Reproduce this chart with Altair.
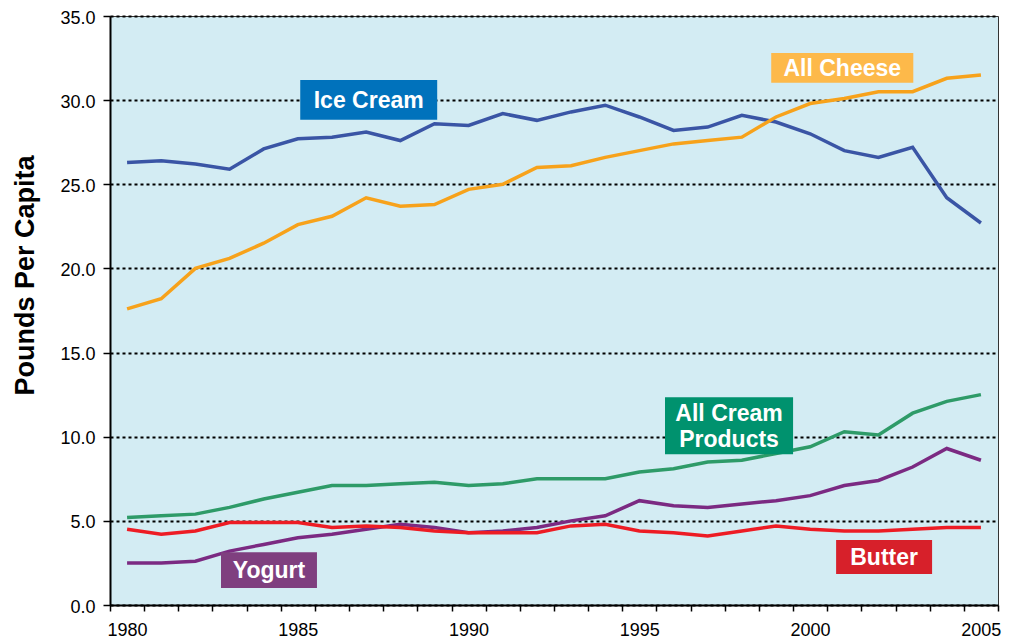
import altair as alt
import pandas as pd

years = list(range(1980, 2006))
ice_cream = [26.3, 26.4, 26.2, 25.9, 27.1, 27.7, 27.8, 28.1, 27.6, 28.6, 28.5, 29.2, 28.8,
             29.3, 29.7, 29.0, 28.2, 28.4, 29.1, 28.7, 28.0, 27.0, 26.6, 27.2, 24.2, 22.7]
cheese = [17.6, 18.2, 20.0, 20.6, 21.5, 22.6, 23.1, 24.2, 23.7, 23.8, 24.7, 25.0, 26.0,
          26.1, 26.6, 27.0, 27.4, 27.6, 27.8, 29.0, 29.8, 30.1, 30.5, 30.5, 31.3, 31.5]
cream = [5.2, 5.3, 5.4, 5.8, 6.3, 6.7, 7.1, 7.1, 7.2, 7.3, 7.1, 7.2, 7.5,
         7.5, 7.5, 7.9, 8.1, 8.5, 8.6, 9.0, 9.4, 10.3, 10.1, 11.4, 12.1, 12.5]
yogurt = [2.5, 2.5, 2.6, 3.2, 3.6, 4.0, 4.2, 4.5, 4.8, 4.6, 4.3, 4.4, 4.6,
          5.0, 5.3, 6.2, 5.9, 5.8, 6.0, 6.2, 6.5, 7.1, 7.4, 8.2, 9.3, 8.6]
butter = [4.5, 4.2, 4.4, 4.9, 4.9, 4.9, 4.6, 4.7, 4.6, 4.4, 4.3, 4.3, 4.3,
          4.7, 4.8, 4.4, 4.3, 4.1, 4.4, 4.7, 4.5, 4.4, 4.4, 4.5, 4.6, 4.6]

series_names = ["Ice Cream", "All Cheese", "All Cream Products", "Yogurt", "Butter"]
series_values = [ice_cream, cheese, cream, yogurt, butter]
line_colors = ["#3A55A5", "#F7A21B", "#2E9B68", "#7B2A82", "#ED1C24"]

# annotation label boxes (data coordinates)
label_texts = ["Ice Cream", "All Cheese", "All Cream\nProducts", "Yogurt", "Butter"]
label_fills = ["#0072BC", "#FDB94A", "#00926E", "#7F3F7F", "#D7202A"]
label_x0 = [1985.07, 1998.86, 1995.75, 1982.75, 2000.76]
label_x1 = [1989.08, 2003.02, 1999.50, 1985.56, 2003.57]
label_y0 = [28.83, 31.03, 8.96, 1.01, 1.84]
label_y1 = [31.20, 32.80, 12.34, 3.14, 3.86]
label_ty = [30.02, 31.92, 11.43, 2.08, 2.85]

rows = []
for name, vals in zip(series_names, series_values):
    for y, v in zip(years, vals):
        rows.append({"year": y, "value": v, "series": name})
df = pd.DataFrame(rows)

labels_df = pd.DataFrame({
    "text": label_texts, "fill": label_fills,
    "x0": label_x0, "x1": label_x1, "y0": label_y0, "y1": label_y1, "ty": label_ty,
})

FONT = "Liberation Sans"
W, H = 888, 589

x_scale = alt.Scale(domain=[1979.5, 2005.5], nice=False, zero=False)
y_scale = alt.Scale(domain=[0, 35], nice=False)

x_axis = alt.Axis(
    values=[y - 0.5 for y in years] + [2005.5],
    labelExpr="(datum.value + 0.5) % 5 == 0 ? format(datum.value + 0.5, 'd') : ''",
    labelOffset=17, labelOverlap=False, labelFlush=False,
    tickSize=6, tickColor="black", tickWidth=1.5,
    domainColor="black", domainWidth=2,
    labelFont=FONT, labelFontSize=18, labelColor="black", labelPadding=10,
    grid=False, title=None,
)
y_axis = alt.Axis(
    values=[0, 5, 10, 15, 20, 25, 30, 35], format=".1f",
    tickSize=7, tickColor="black", tickWidth=1.5,
    domainColor="black", domainWidth=2,
    labelFont=FONT, labelFontSize=18, labelColor="black", labelPadding=8,
    labelOffset=2, labelFlush=False,
    grid=True, gridColor="black", gridDash=[3, 3], gridWidth=2,
    title="Pounds Per Capita", titleFont=FONT, titleFontSize=27,
    titleFontWeight="bold", titleColor="black", titleAngle=-90,
    titleAlign="center", titleBaseline="alphabetic", titleX=-77, titleY=259,
)

layers = []
for name, col in zip(series_names, line_colors):
    layers.append(
        alt.Chart(df).transform_filter(alt.datum.series == name)
        .mark_line(strokeWidth=3.5, color=col, strokeJoin="miter", clip=True)
        .encode(
            x=alt.X("year:Q", scale=x_scale, axis=x_axis),
            y=alt.Y("value:Q", scale=y_scale, axis=y_axis),
        )
    )

boxes = alt.Chart(labels_df).mark_rect().encode(
    x=alt.X("x0:Q", scale=x_scale, axis=x_axis), x2="x1:Q",
    y=alt.Y("y0:Q", scale=y_scale, axis=y_axis), y2="y1:Q",
    fill=alt.Fill("fill:N", scale=None),
)
texts = alt.Chart(labels_df).transform_calculate(
    xc="(datum.x0 + datum.x1) / 2"
).mark_text(
    font=FONT, fontSize=23, fontWeight="bold", color="white",
    align="center", baseline="middle", lineBreak="\n", lineHeight=26, dy=1,
).encode(
    x=alt.X("xc:Q", scale=x_scale, axis=x_axis),
    y=alt.Y("ty:Q", scale=y_scale, axis=y_axis),
    text="text:N",
)

chart = alt.layer(*layers, boxes, texts).properties(
    width=W, height=H,
    autosize=alt.AutoSizeParams(type="none"),
    padding={"left": 102, "top": 8, "right": 9, "bottom": 38},
    background="white",
).configure_view(
    fill="#D3ECF3", stroke="#333333", strokeWidth=1,
)

chart.save("out.html", embed_options={"renderer": "svg", "actions": False})
